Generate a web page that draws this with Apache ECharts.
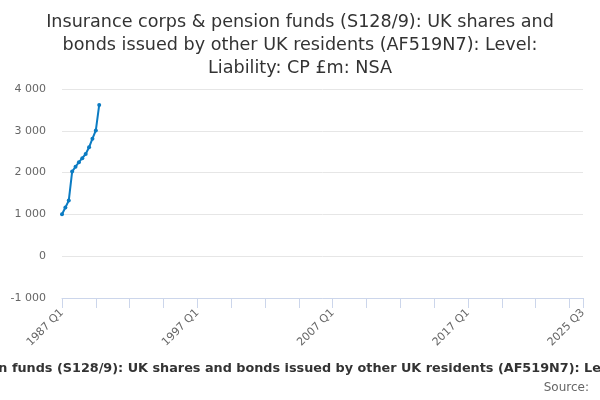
<!DOCTYPE html>
<html>
<head>
<meta charset="utf-8">
<script src="https://cdn.jsdelivr.net/npm/echarts@6/dist/echarts.min.js"></script>
<style>
	html, body { margin: 0; padding: 0; background: #fff; }
	#main { width: 600px; height: 400px; }
</style>
</head>
<body>
<div id="main"></div>
<script>
// Série trimestrielle, de 1987 Q1 à 2025 Q3
var firstYear = 1987;
var lastYear = 2025;
var lastQuarter = 3;

// valeurs (£m), seulement les premiers trimestres
var values = [1005, 1165, 1330, 2025, 2140, 2250, 2345, 2445, 2605, 2810, 3010, 3620];

var titleText = 'Insurance corps & pension funds (S128/9): UK shares and\nbonds issued by other UK residents (AF519N7): Level:\nLiability: CP £m: NSA';
var axisText = 'Insurance corps & pension funds (S128/9): UK shares and bonds issued by other UK residents (AF519N7): Level: Liability: CP £m: NSA';
var sourceText = 'Source:';

var quarters = [];
for (var y = firstYear; y <= lastYear; y++) {
	for (var q = 1; q <= 4; q++) {
		if (y == lastYear && q > lastQuarter) break;
		quarters.push(y + ' Q' + q);
	}
}
var last = quarters.length - 1;

var myChart = echarts.init(document.getElementById('main'));
var font = 'DejaVu Sans';

var option = {
	animation: false,
	textStyle: { fontFamily: font },
	title: [{
		text: titleText,
		left: 'center',
		top: 6,
		textStyle: { fontSize: 17.6, fontWeight: 'normal', color: '#333', lineHeight: 23, fontFamily: font }
	}],
	graphic: [{
		type: 'text',
		x: 300,
		y: 362,
		style: {
			text: axisText,
			textAlign: 'center',
			font: 'bold 12.8px "DejaVu Sans"',
			fill: '#333'
		}
	}, {
		type: 'text',
		x: 589,
		y: 382,
		style: {
			text: sourceText,
			textAlign: 'right',
			font: '12px "DejaVu Sans"',
			fill: '#666'
		}
	}],
	grid: { left: 62, right: 17, top: 89, bottom: 102, containLabel: false },
	xAxis: {
		type: 'category',
		data: quarters,
		boundaryGap: false,
		axisLine: { onZero: false, lineStyle: { color: '#ccd6eb' } },
		axisTick: {
			length: 10,
			lineStyle: { color: '#ccd6eb' },
			interval: function(i) { return i % 10 == 0 || i == last; }
		},
		axisLabel: {
			rotate: 45,
			color: '#666',
			fontSize: 11,
			margin: 13,
			interval: function(i) { return i % 40 == 0 || i == last; }
		}
	},
	yAxis: {
		type: 'value',
		min: -1000,
		max: 4000,
		interval: 1000,
		axisLine: { show: false },
		axisTick: { show: false },
		splitLine: { lineStyle: { color: '#e6e6e6' } },
		axisLabel: {
			color: '#666',
			fontSize: 11,
			margin: 16,
			formatter: function(v) {
				return String(v).replace(/\B(?=(\d{3})+(?!\d))/g, ' ');
			}
		}
	},
	series: [{
		type: 'line',
		data: values,
		symbol: 'circle',
		symbolSize: 4,
		showAllSymbol: true,
		color: '#0b7bc2',
		lineStyle: { width: 2 }
	}]
};

myChart.setOption(option);
</script>
</body>
</html>
